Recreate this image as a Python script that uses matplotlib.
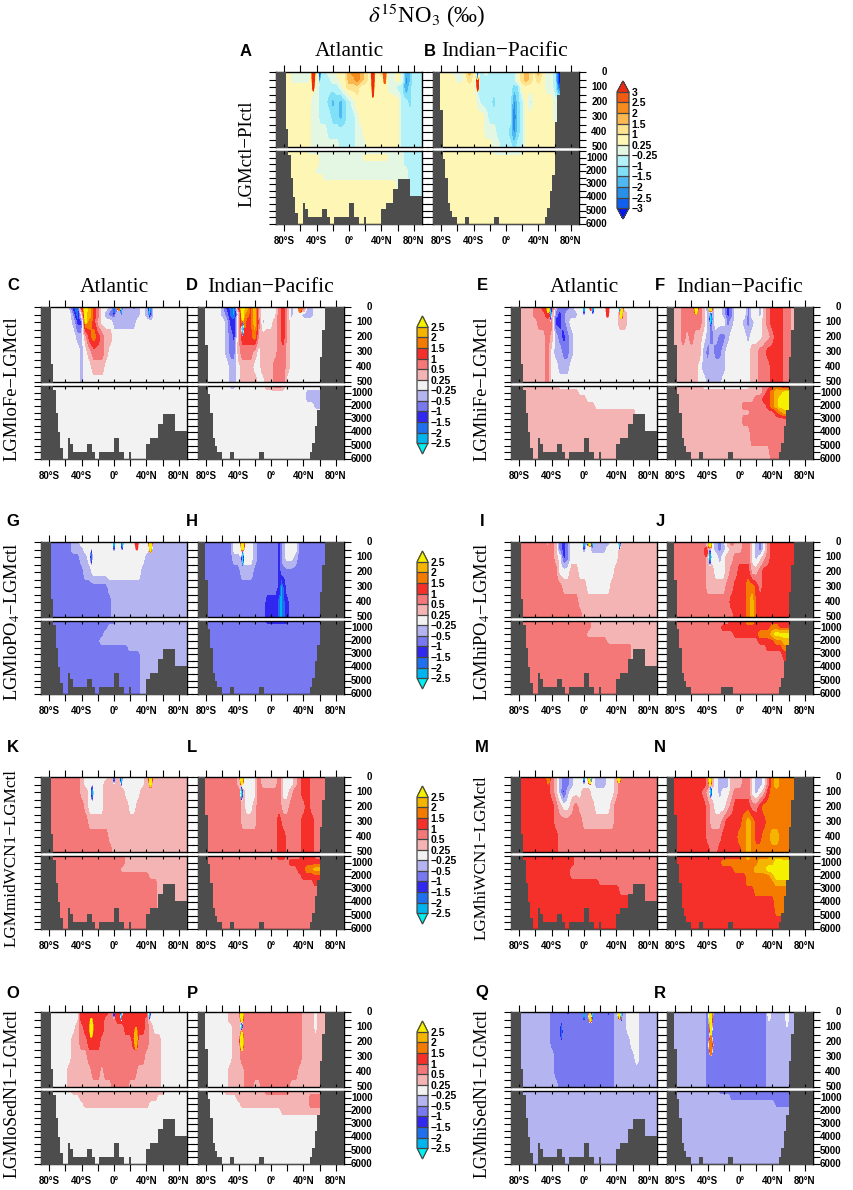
import numpy as np
import matplotlib
matplotlib.use('Agg')
import matplotlib.pyplot as plt
from matplotlib.colors import ListedColormap, BoundaryNorm
from matplotlib.colorbar import ColorbarBase
from matplotlib.ticker import FixedLocator

# contour band, one char per 5 deg of latitude (-90..90)
# 0 neutral, 1..6 warm bands, a..f cold bands (spaces only group the columns)
band_of = {'0': 0, '1': 1, '2': 2, '3': 3, '4': 4, '5': 5, '6': 6,
           'a': -1, 'b': -2, 'c': -3, 'd': -4, 'e': -5, 'f': -6}
grid_lat = np.arange(-90, 91, 5)
up_depth = [0, 50, 100, 200, 300, 400, 500]
lo_depth = [500, 1000, 1500, 2000, 2500, 3000, 4000, 6000]

zero = '0' * 37
all_a = 'a' * 37
all_b = 'b' * 37
all_1 = '1' * 37
all_2 = '2' * 37
all_3 = '3' * 37

A_up = ['111100 00011a a00111 344321 112100 10ccaa a',
        '111100 00011a aa0011 334321 111100 10dcaa a',
        '111111 11110a aaaa01 222111 111100 aadbaa a',
        '111111 11100a abcbcb a01111 111111 1aabaa a',
        '111111 11100a aabbcb aa0111 111111 1aaaaa a',
        '111111 111000 0aaaaa aa0011 111111 1aaaaa a',
        '111111 111000 0000aa aa0001 111111 1aaaaa a']
A_lo = ['111111 110000 000000 a00000 000000 00aaaa a',
        '111111 111110 000000 000011 111100 00aaaa a',
        '111111 111110 000000 000000 000000 00aaaa a',
        '111111 111100 000000 000000 000000 000aaa a',
        '111111 111111 000000 000000 000000 000aaa a',
        '111111 111111 111111 111111 111111 000aaa a',
        '111111 111111 111111 111111 111111 000aaa a',
        '111111 111111 111111 111111 111111 000aaa a']
B_up = ['111110 00131a a0aaaa aaa123 213100 afffff f',
        '111111 00121a aaaaaa aaa123 212100 afffff f',
        '111111 11111a aaaaaa aabb11 111100 aeeeee e',
        '111111 111110 aaabaa aadba1 a11111 00aaaa a',
        '111111 111111 10aaaa aaeba1 111111 000000 0',
        '111111 111111 1000aa abdba1 111111 111111 1',
        '111111 111111 11100a aabaa1 111111 111111 1']
B_lo = ['111111 111111 1110aa aaaa01 111111 111111 1'] + [all_1] * 7

C_up = ['000000 0ade35 53200a bbaaab a0ac00 000000 0',
        '000000 00be05 5320ab baaaaa a0ac00 000000 0',
        '000000 00acc5 431000 aaaaaa 000000 000000 0',
        '000000 000aa1 343211 000000 000000 000000 0',
        '000000 0000a0 122210 000000 000000 000000 0',
        '000000 0000a0 011100 000000 000000 000000 0',
        '000000 0000a0 000000 000000 000000 000000 0']
C_lo = [zero] * 8
D_up = ['000000 acde35 535100 00231a 003ba0 000000 0',
        '000000 abde05 435100 00231a 00aaa0 000000 0',
        '000000 0acc15 3352a0 012310 000000 000000 0',
        '000000 0abc13 334111 112310 000000 000000 0',
        '000000 0abb12 221011 112210 000000 000000 0',
        '000000 00aa01 110011 122210 000000 000000 0',
        '000000 00aa01 111001 122200 000000 000000 0']
D_lo = ['000000 00aa00 000001 122100 000000 000000 0',
        '000000 000000 000000 000000 000aaa aaaaaa a',
        '000000 000000 000000 000000 000aaa aaaaaa a',
        '000000 000000 000000 000000 00000a aaaaaa a',
        zero, zero, zero, zero]
E_up = ['111111 22334a bbba00 000000 000100 000000 0',
        '111111 22232b cbaaa0 000000 000110 000000 0',
        '111111 12222c cba000 000000 000110 000000 0',
        '111111 11121a bcba00 000000 000000 000000 0',
        '111111 11120a abba00 000000 000000 000000 0',
        '111111 111200 aaa000 000000 000000 000000 0',
        '111111 111200 000000 000000 000000 000000 0']
E_lo = ['111111 111111 000000 000000 000000 000000 0',
        '111111 111111 111110 000000 000000 000000 0',
        '111111 111111 111111 100000 000000 000000 0',
        '111111 111111 111111 111000 000000 000000 0',
        '111111 111111 111111 111111 111111 100000 0',
        '111111 111111 111111 111111 111111 100000 0',
        '111111 111111 111111 111111 111111 100000 0',
        '111111 111111 111111 111111 111111 100000 0']
F_up = ['111122 2321bb 00acb0 00b00a 123332 211111 1',
        '111122 2221ab 00acb0 00b00a 123332 211111 1',
        '111122 2221ab 000ba0 0aba00 123332 211111 1',
        '111121 2110ab abba00 00a000 112332 211111 1',
        '111111 111aba bba000 000112 233332 211111 1',
        '111111 110aaa aaa000 000112 223332 211111 1',
        '111111 1100aa aa0000 000112 223332 211111 1']
F_lo = ['111111 111000 000000 000111 223432 211111 1',
        '111111 111111 111111 111111 234556 666666 6',
        '111111 111111 111111 111122 334566 666666 6',
        '111111 111111 111111 122222 234566 666666 6',
        '111111 111111 111111 111222 222345 555555 5',
        '111111 111111 111111 122222 222222 222222 2',
        '111111 111111 111111 111222 222222 222222 2',
        '111111 111111 111111 111111 112222 222222 2']
G_up = ['bbbbbb bbaa00 000000 000000 000aaa aaaaaa a',
        'bbbbbb bbaaa0 000000 000000 000aaa aaaaaa a',
        'bbbbbb bbbbaa 000000 000000 00aaaa aaaaaa a',
        'bbbbbb bbbbba a00000 000000 0aaaaa aaaaaa a',
        'bbbbbb bbbbbb bbbbba aaaaaa aaaaaa aaaaaa a',
        'bbbbbb bbbbbb bbbbbb aaaaaa aaaaaa aaaaaa a',
        'bbbbbb bbbbbb bbbbbb aaaaaa aaaaaa aaaaaa a']
G_lo = ['bbbbbb bbbbbb bbbbbb baaaaa aaaaaa aaaaaa a',
        'bbbbbb bbbbbb bbbbba aaaaaa aaaaaa aaaaaa a',
        'bbbbbb bbbbbb bbbbaa aaaaaa aaaaaa aaaaaa a',
        'bbbbbb bbbbbb bbbaaa aaaaaa aaaaaa aaaaaa a',
        'bbbbbb bbbbbb bbbbbb bbbbaa aaaaaa aaaaaa a',
        'bbbbbb bbbbbb bbbbbb bbbbbb baaaaa aaaaaa a',
        'bbbbbb bbbbbb bbbbbb bbbbbb baaaaa aaaaaa a',
        'bbbbbb bbbbbb bbbbbb bbbbbb baaaaa aaaaaa a']
H_up = ['bbbbbb bbb000 00abbb bbca00 0bbbbb bbbbbb b',
        'bbbbbb bbb000 00abbb bbca00 0bbbbb bbbbbb b',
        'bbbbbb bbbaa0 00abbb bbca00 abbbbb bbbbbb b',
        'bbbbbb bbbbba aabbbb bbcbbb bbbbbb bbbbbb b',
        'bbbbbb bbbbbb bbbbbb bbcdbb bbbbbb bbbbbb b',
        'bbbbbb bbbbbb bbbbbc ccddcb bbbbbb bbbbbb b',
        'bbbbbb bbbbbb bbbbbc ccddcb bbbbbb bbbbbb b']
H_lo = ['bbbbbb bbbbbb bbbbbc cccccb bbbbbb bbbbbb b'] + [all_b] * 7
I_up = ['222222 222121 bcb000 0a0aaa a00111 111111 1',
        '222222 222221 bcb000 a0aaaa 000111 111111 1',
        '222222 222221 0cb000 000000 000111 111111 1',
        '222222 222222 000110 000000 001111 111111 1',
        '222222 222222 211111 100000 011111 111111 1',
        '222222 222222 222221 111111 111111 111111 1',
        '222222 222222 222222 111111 111111 111111 1']
I_lo = ['222222 222222 222222 221111 111111 111111 1',
        '222222 222222 222222 221111 111111 111111 1',
        '222222 222222 222222 211111 111111 111111 1',
        '222222 222222 222222 222222 111111 111111 1',
        '222222 222222 222222 222222 222222 111111 1',
        '222222 222222 222222 222222 222222 111111 1',
        '222222 222222 222222 222222 222222 111111 1',
        '222222 222222 222222 222222 222222 111111 1']
J_up = ['222222 222210 aba121 1220ab 023333 333333 3',
        '222222 222210 aba011 1220ab 023333 333333 3',
        '222222 222210 0a0112 2220a0 123333 333333 3',
        '222222 222211 000122 333112 333333 333333 3',
        '222222 222211 111223 334432 333333 333333 3',
        '222222 222222 222233 334533 333333 333333 3',
        '222222 222222 222223 334533 333333 333333 3']
J_lo = ['222222 222222 222233 334433 333333 333333 3',
        '222222 222222 223333 333333 334433 333333 3',
        '222222 222222 222223 333334 445666 666666 6',
        '222222 222222 222222 222223 333445 555555 5',
        '222222 222222 222222 222222 233334 444444 4',
        '222222 222222 222222 222222 222223 333333 3',
        all_2, all_2]
K_up = ['222222 222210 000001 110000 001111 111111 1',
        '222222 222210 000011 110000 001111 111111 1',
        '222222 222211 000011 111000 011111 111111 1',
        '222222 222221 000011 111100 111111 111111 1',
        '222222 222222 111111 111111 111111 111111 1',
        '222222 222222 222221 111111 111111 111111 1',
        '222222 222222 222222 111111 111111 111111 1']
K_lo = ['222222 222222 222222 222111 111111 111111 1',
        '222222 222222 222222 222111 111111 111111 1',
        '222222 222222 222222 221111 111111 111111 1',
        '222222 222222 222222 222222 222111 111111 1',
        '222222 222222 222222 222222 222221 111111 1',
        '222222 222222 222222 222222 222221 111111 1',
        '222222 222222 222222 222222 222221 111111 1',
        '222222 222222 222222 222222 222221 111111 1']
L_up = ['222222 222210 000211 112000 123322 222222 2',
        '222222 222210 000211 112000 123322 222222 2',
        '222222 222221 000222 222001 223322 222222 2',
        '222222 222221 001222 222112 222322 222222 2',
        '222222 222221 111222 223222 223332 222222 2',
        '222222 222222 222222 223322 223332 222222 2',
        '222222 222222 222222 223322 223332 222222 2']
L_lo = ['222222 222222 222222 223322 223332 222222 2',
        '222222 222222 222222 222223 333333 333333 3',
        '222222 222222 222222 222222 233445 555555 5',
        '222222 222222 222222 222222 223333 333333 3',
        '222222 222222 222222 222222 222223 333333 3',
        all_2, all_2, all_2]
M_up = ['333333 333321 abba00 000aaa 001222 222222 2',
        '333333 333321 abba00 000aaa 001222 222222 2',
        '333333 333321 aca000 110000 001222 222222 2',
        '333333 333332 100121 111000 012222 222222 2',
        '333333 333332 222222 111111 112222 222222 2',
        '333333 333333 222222 222222 222222 222222 2',
        '333333 333333 222222 222222 222222 222222 2']
M_lo = ['333333 333333 333322 222222 222222 222222 2',
        '333333 333333 333322 222222 222222 222222 2',
        '333333 333333 333222 222222 222222 222222 2',
        '333333 333333 333222 222222 222222 222222 2',
        '333333 333333 333333 333322 222222 222222 2',
        '333333 333333 333333 333333 333222 222222 2',
        '333333 333333 333333 333333 333333 222222 2',
        '333333 333333 333333 333333 333333 222222 2']
N_up = ['333333 333321 0aaa11 1220aa 024544 444444 4',
        '333333 333321 0aaa11 1220aa 024544 444444 4',
        '333333 333210 0a0012 2220a0 134444 444444 4',
        '333333 333321 000123 333223 444444 444444 4',
        '333333 333321 112333 345433 344444 444444 4',
        '333333 333322 223333 445433 445544 444444 4',
        '333333 333332 233333 345444 444444 444444 4']
N_lo = ['333333 333333 333333 345444 445554 444444 4',
        '333333 333333 334444 444445 555666 666666 6',
        '333333 333333 333334 444455 566666 666666 6',
        '333333 333333 333333 334444 445666 666666 6',
        '333333 333333 333333 334444 444555 555555 5',
        '333333 333333 333333 333344 444444 444444 4',
        '333333 333333 333333 333333 333444 444444 4',
        all_3]
O_up = ['000000 000033 333332 333333 333000 000000 0',
        '000000 000033 333322 233333 332000 000000 0',
        '000000 000123 333322 222333 332100 000000 0',
        '000000 001122 333222 222223 222111 000000 0',
        '000000 001111 222222 222222 221111 000000 0',
        '000000 011111 122122 222222 111111 000000 0',
        '000000 011111 111111 222211 111111 000000 0']
O_lo = ['000000 001111 111111 111111 111111 100000 0',
        '000000 000011 111111 111111 111110 000000 0',
        '000000 000001 111111 111111 111000 000000 0',
        zero, zero, zero, zero, zero]
P_up = ['000000 001112 222222 222222 221110 110000 0',
        '000000 001112 222222 222222 221110 110000 0',
        '000000 000112 222222 222222 221110 110000 0',
        '000000 000112 222222 222222 221111 110000 0',
        '000000 000112 222222 222222 221111 110000 0',
        '000000 001111 222222 222222 211111 110000 0',
        '000000 001111 221122 222221 111111 110000 0']
P_lo = ['000000 011111 111112 222221 111111 110000 0',
        '000000 000011 111111 111111 111122 222222 2',
        '000000 000001 111111 111111 111122 222222 2',
        '000000 000000 000000 000111 111111 111111 1',
        zero, zero, zero, zero]
Q_up = ['aaaaaa aaaabb bbcbbb bbbbbb cbaaa0 00aaaa a',
        'aaaaaa aaaabb bbbbbb bbbbbb bbaaa0 00aaaa a',
        'aaaaaa aaaabb bbbbbb bbbbbb bbaaa0 00aaaa a',
        'aaaaaa aaaabb bbbbbb bbbbbb bbaaaa 00aaaa a',
        'aaaaaa aaaaab bbbbbb bbbbbb bbaaaa a0aaaa a',
        'aaaaaa aaaaab bbbbbb bbbbbb bbaaaa aaaaaa a',
        'aaaaaa aaaaaa bbbbbb bbbbbb bbaaaa aaaaaa a']
Q_lo = [all_a] * 8
R_up = ['aaaaaa aaaabb bbbbbb bbbbbb baaaaa aaaaaa a'] * 7
R_lo = ['aaaaaa aaaaaa abbbbb bbbbbb bbbbbb baaaaa a',
        'aaaaaa aaaaaa aaaabb bbbbbb bbbbbb bbbbbb b',
        'aaaaaa aaaaaa aaaaaa aaaaaa aaabbb bbbbbb b',
        all_a, all_a, all_a, all_a, all_a]

# narrow features at the surface: latitude, band, top depth, bottom depth
A_sp = [(-44, 6, 0, 130), (-36, -5, 0, 85), (29.5, 6, 0, 170), (44, 5, 0, 80)]
B_sp = [(-35, 6, 0, 130), (-35, -5, 0, 60)]
C_sp = [(0, -5, 0, 70), (9, -6, 0, 60), (6, 4, 0, 25), (44, -6, 0, 80), (-35, 6, 0, 110)]
D_sp = [(-35, 6, 0, 90), (-35, -6, 90, 200), (36, 4, 0, 40)]
E_sp = [(-41, -6, 0, 110), (-44, 6, 0, 40), (0, -6, 0, 70), (9, 3, 0, 25), (11, -6, 0, 60),
        (29, 3, 0, 70), (46, 6, 0, 80), (44, -6, 0, 40)]
F_sp = [(-54, 6, 0, 50), (-36, 6, 0, 50), (-36, -6, 20, 140)]
G_sp = [(0, -6, 0, 75), (9.5, 3, 0, 30), (10, -6, 0, 70), (28, 3, 0, 55), (45, 6, 0, 70), (-28, -4, 40, 160)]
H_sp = [(-35, 6, 0, 80), (-35, -6, 50, 170), (12.5, -5, 200, 700)]
I_sp = [(0, -6, 0, 70), (5, -4, 0, 40), (7, 6, 0, 30), (10, -6, 0, 50), (44, -6, 0, 60)]
J_sp = [(-37, 6, 0, 50), (-37, -6, 30, 170), (-42, 3, 30, 100)]
K_sp = [(-27, -5, 40, 170), (0, -5, 0, 60), (9, -6, 0, 70), (45, 6, 0, 70)]
L_sp = [(-36, 6, 0, 60), (-36, -6, 50, 170)]
M_sp = [(0, -6, 0, 60), (7, 6, 0, 50), (9, -6, 0, 40), (-44, 4, 0, 50), (43, 6, 0, 40)]
N_sp = [(-37, 6, 0, 60), (-36, -6, 50, 150)]
O_sp = [(-28, 6, 40, 170), (0, -5, 0, 60), (9, -6, 0, 70), (44, -6, 0, 60), (27, 5, 100, 250)]
P_sp = [(-36, 6, 0, 80), (-36, -6, 60, 130), (-36, 6, 130, 260)]
Q_sp = [(-28, -4, 60, 200), (0, -6, 0, 70), (8, 6, 0, 70), (10, -6, 0, 60), (44, 6, 0, 50), (46, -6, 0, 70)]
R_sp = [(-36, 6, 0, 180), (-36, 4, 150, 290), (36, 0, 0, 60), (58, 0, 0, 100)]

# sea floor depth (m) in 3 degree bins from -90
floor_lat = np.arange(-90, 91, 3)
floor_atl = [0, 0, 0, 0, 380, 800, 2500, 4000, 5200, 6000, 6000, 4400, 4900, 5500, 5500, 5500, 5500,
             5500, 5500, 4900, 4900, 5500, 6000, 6000, 5500, 5500, 5500, 5500, 5500, 5500, 4400, 4400,
             5500, 5500, 6000, 6000, 5500, 6000, 6000, 6000, 6000, 6000, 6000, 4900, 4900, 4400, 4400,
             4400, 3400, 3400, 2600, 2600, 2600, 2600, 2600, 3900, 3900, 3900, 3900, 3900]
floor_ip = [0, 0, 0, 250, 1100, 2500, 4400, 5000, 5500, 5500, 6000, 6000, 6000, 5500, 5500, 6000, 6000,
            6000, 6000, 6000, 6000, 6000, 6000, 6000, 6000, 5500, 5500, 6000, 6000, 6000, 6000, 6000,
            6000, 6000, 6000, 6000, 6000, 6000, 6000, 6000, 6000, 6000, 6000, 6000, 6000, 6000, 5500,
            4800, 3500, 2300, 330, 150, 0, 0, 0, 0, 0, 0, 0, 0]
floor_j = [0, 0, 0, 250, 1100, 2500, 4400, 5000, 5500, 5500, 6000, 6000, 6000, 6000, 6000, 6000, 6000,
           6000, 6000, 6000, 6000, 6000, 5500, 5500, 5500, 5500, 5500, 6000, 6000, 6000, 6000, 6000,
           6000, 6000, 6000, 6000, 6000, 6000, 6000, 6000, 6000, 6000, 6000, 6000, 6000, 6000, 5500,
           4800, 3500, 2300, 330, 150, 0, 0, 0, 0, 0, 0, 0, 0]

colors_a = ['#0018f0', '#1060f0', '#2890e8', '#50b8f0', '#80e0f8', '#b4f2fa', '#e4f7e2',
            '#fdf6b4', '#fde38e', '#fbb850', '#f68c1e', '#f15c12', '#ee2a10']
colors_r = ['#00f0f0', '#00b4f0', '#1e70f0', '#3028f0', '#7878f0', '#b4b4f0', '#f2f2f2',
            '#f5b4b4', '#f57878', '#f5302a', '#f57a00', '#f5b400', '#f5f000']
labels_a = ['3', '2.5', '2', '1.5', '1', '0.25', '\u22120.25', '\u22121', '\u22121.5', '\u22122', '\u22122.5', '\u22123']
labels_r = ['2.5', '2', '1.5', '1', '0.5', '0.25', '\u22120.25', '\u22120.5', '\u22121', '\u22121.5', '\u22122', '\u22122.5']

W, H = 854, 1190
plt.rcParams['mathtext.fontset'] = 'stix'
SANS = 'Liberation Sans'
SERIF = 'Liberation Serif'
land = '#4d4d4d'
levels = np.arange(-5.5, 6)
fine_lat = np.arange(-90, 90.25, 0.5)
fine_up = np.arange(0, 501, 5)
fine_lo = np.arange(500, 6001, 50)

fig = plt.figure(figsize=(W / 100, H / 100), dpi=100)


def pxax(x0, y0, x1, y1):
    return fig.add_axes([x0 / W, 1 - y1 / H, (x1 - x0) / W, (y1 - y0) / H])


def pxtext(x, y, s, **kw):
    fig.text(x / W, 1 - y / H, s, ha='center', va='center', **kw)


def decode(rows):
    out = []
    for r in rows:
        r = r.replace(' ', '')
        r = r.ljust(37, r[-1])[:37]
        out.append([band_of[c] for c in r])
    return np.array(out, dtype=float)


def fine_field(rows, depth, fine_d):
    grid = decode(rows)
    by_lat = np.array([np.interp(fine_lat, grid_lat, g) for g in grid])
    return np.array([np.interp(fine_d, depth, by_lat[:, i]) for i in range(len(fine_lat))]).T


def add_spikes(z, spikes):
    dd, ll = np.meshgrid(fine_up, fine_lat, indexing='ij')
    for lat, val, top, bot in spikes:
        mid = top if top == 0 else (top + bot) / 2
        half = bot - mid
        reach = np.clip(1 - np.abs(dd - mid) / half, 0, 1)
        width = 2.8 * np.sqrt(reach) + 1e-6
        t = np.clip(1.7 * (1 - np.abs(ll - lat) / width), 0, 1)
        t[reach <= 0] = 0  # nothing below the bottom of the feature
        z = z + (val - z) * t
    return z


def style(ax, upper):
    ax.set_xlim(-90, 90)
    ax.xaxis.set_major_locator(FixedLocator([-80, -40, 0, 40, 80]))
    ax.xaxis.set_minor_locator(FixedLocator([-60, -20, 20, 60]))
    if upper:
        ax.set_ylim(500, 0)
        ax.yaxis.set_major_locator(FixedLocator(range(0, 501, 100)))
        ax.yaxis.set_minor_locator(FixedLocator(range(50, 500, 100)))
    else:
        ax.set_ylim(6000, 500)
        ax.yaxis.set_major_locator(FixedLocator(range(1000, 6001, 1000)))
        ax.yaxis.set_minor_locator(FixedLocator(range(500, 6000, 1000)))
    ax.tick_params(axis='y', which='both', left=True, right=True, direction='out',
                   length=5, width=0.8, labelleft=False, labelright=False)
    ax.tick_params(axis='x', which='both', top=upper, bottom=not upper, direction='out',
                   length=5, width=0.8, labelbottom=False, labeltop=False)
    # short inward ticks on the edges that face the gap
    inner = (0, 0.04) if upper else (0.96, 1)
    ax.vlines(range(-80, 81, 20), inner[0], inner[1], transform=ax.get_xaxis_transform(),
              color='k', lw=0.8, zorder=4)
    for s in ax.spines.values():
        s.set_linewidth(1.0)


def draw_basin(x0, x1, y0, rows_up, rows_lo, spikes, floor, cols, right_labels):
    up = pxax(x0, y0, x1, y0 + 75)
    lo = pxax(x0, y0 + 79, x1, y0 + 152)
    zu = add_spikes(fine_field(rows_up, up_depth, fine_up), spikes)
    zl = fine_field(rows_lo, lo_depth, fine_lo)
    up.contourf(fine_lat, fine_up, zu, levels=levels, colors=cols, extend='both')
    lo.contourf(fine_lat, fine_lo, zl, levels=levels, colors=cols, extend='both')
    for ax in (up, lo):
        ax.fill_between(floor_lat, list(floor) + [floor[-1]], 7000, step='post', color=land, lw=0, zorder=3)
    style(up, True)
    style(lo, False)
    lo.tick_params(axis='x', labelbottom=True, labelsize=7, pad=3.5)
    lo.set_xticklabels(['80\u00b0S', '40\u00b0S', '0\u00b0', '40\u00b0N', '80\u00b0N'],
                       family=SANS, weight='bold')
    if right_labels:
        for d in range(0, 501, 100):
            up.annotate(str(d), xy=(1, d), xycoords=('axes fraction', 'data'), xytext=(20.5, 0),
                        textcoords='offset points', ha='right', va='center', fontsize=7,
                        family=SANS, weight='bold', annotation_clip=False)
        for d in range(1000, 6001, 1000):
            lo.annotate(str(d), xy=(1, d), xycoords=('axes fraction', 'data'), xytext=(20.5, 0),
                        textcoords='offset points', ha='right', va='center', fontsize=7,
                        family=SANS, weight='bold', annotation_clip=False)


def draw_cbar(x0, x1, y0, y1, cols, labels):
    cax = pxax(x0, y0, x1, y1)
    cmap = ListedColormap(cols[1:-1])
    cmap.set_under(cols[0])
    cmap.set_over(cols[-1])
    norm = BoundaryNorm(levels, cmap.N)
    cb = ColorbarBase(cax, cmap=cmap, norm=norm, extend='both', extendfrac=0.094,
                      spacing='uniform', ticks=levels, drawedges=True)
    cb.dividers.set_color('#444444')
    cb.dividers.set_linewidth(0.9)
    cb.outline.set_edgecolor('#444444')
    cb.outline.set_linewidth(0.9)
    cb.ax.tick_params(length=0, pad=2)
    cb.ax.set_yticklabels(labels[::-1], fontsize=7.5, family=SANS, weight='bold')


# top row
pxtext(427, 16, r'$\delta^{15}$NO$_3$ (‰)', fontsize=16.5, family=SERIF)
draw_basin(276, 422, 72, A_up, A_lo, A_sp, floor_atl, colors_a, False)
draw_basin(433, 579, 72, B_up, B_lo, B_sp, floor_ip, colors_a, True)
draw_cbar(617, 629, 81, 219, colors_a, labels_a)
pxtext(349, 52, 'Atlantic', fontsize=15.5, family=SERIF)
pxtext(505, 52, 'Indian\u2212Pacific', fontsize=15.5, family=SERIF)
pxtext(246, 52, 'A', fontsize=12, family=SANS, weight='bold')
pxtext(430, 52, 'B', fontsize=12, family=SANS, weight='bold')
pxtext(247, 154, 'LGMctl\u2212PIctl', fontsize=13.5, family=SERIF, rotation=90)

# rows of the sensitivity runs, left pair and right pair
row_top = [307, 542, 777, 1012]
left_pairs = [(C_up, C_lo, C_sp, D_up, D_lo, D_sp, floor_ip), (G_up, G_lo, G_sp, H_up, H_lo, H_sp, floor_ip),
              (K_up, K_lo, K_sp, L_up, L_lo, L_sp, floor_ip), (O_up, O_lo, O_sp, P_up, P_lo, P_sp, floor_ip)]
right_pairs = [(E_up, E_lo, E_sp, F_up, F_lo, F_sp, floor_ip), (I_up, I_lo, I_sp, J_up, J_lo, J_sp, floor_j),
               (M_up, M_lo, M_sp, N_up, N_lo, N_sp, floor_ip), (Q_up, Q_lo, Q_sp, R_up, R_lo, R_sp, floor_ip)]
left_names = ['LGMloFe\u2212LGMctl', 'LGMloPO$_4$\u2212LGMctl', 'LGMmidWCN1\u2212LGMctl', 'LGMloSedN1\u2212LGMctl']
right_names = ['LGMhiFe\u2212LGMctl', 'LGMhiPO$_4$\u2212LGMctl', 'LGMhiWCN1\u2212LGMctl', 'LGMhiSedN1\u2212LGMctl']
left_letters = [('C', 'D'), ('G', 'H'), ('K', 'L'), ('O', 'P')]
right_letters = [('E', 'F'), ('I', 'J'), ('M', 'N'), ('Q', 'R')]
letter_y = [286, 522, 747, 993]
label_mid = [389, 622, 858, 1093]
label_size = [13.3, 13.3, 12.3, 12.8]

for i, y0 in enumerate(row_top):
    a = left_pairs[i]
    draw_basin(41, 187, y0, a[0], a[1], a[2], floor_atl, colors_r, False)
    draw_basin(198, 344, y0, a[3], a[4], a[5], a[6], colors_r, True)
    b = right_pairs[i]
    draw_basin(511, 657, y0, b[0], b[1], b[2], floor_atl, colors_r, False)
    draw_basin(667, 813, y0, b[3], b[4], b[5], b[6], colors_r, True)
    draw_cbar(417, 428, y0 + 9, y0 + 147, colors_r, labels_r)
    pxtext(13, letter_y[i], left_letters[i][0], fontsize=12, family=SANS, weight='bold')
    pxtext(192, letter_y[i], left_letters[i][1], fontsize=12, family=SANS, weight='bold')
    pxtext(482, letter_y[i], right_letters[i][0], fontsize=12, family=SANS, weight='bold')
    pxtext(660, letter_y[i], right_letters[i][1], fontsize=12, family=SANS, weight='bold')
    pxtext(12, label_mid[i], left_names[i], fontsize=label_size[i], family=SERIF, rotation=90)
    pxtext(482, label_mid[i], right_names[i], fontsize=label_size[i], family=SERIF, rotation=90)

for xc in (114, 584):
    pxtext(xc, 287, 'Atlantic', fontsize=15.5, family=SERIF)
for xc in (271, 740):
    pxtext(xc, 287, 'Indian\u2212Pacific', fontsize=15.5, family=SERIF)

fig.savefig('out.png', dpi=100)
